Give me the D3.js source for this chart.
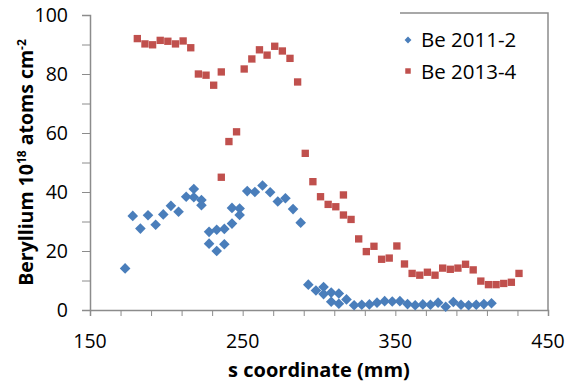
<!DOCTYPE html>
<html>
<head>
<meta charset="utf-8">
<script src="https://cdn.jsdelivr.net/npm/d3@7"></script>
<style>
    body { margin: 0; background: #fff; }
    svg { display: block; font-family: "Open Sans", sans-serif; }
</style>
</head>
<body>
<div id="chart"></div>
<script>
// s coordinate (mm) / beryllium 10^18 atoms cm^-2
const SERIES_NAMES = ['Be 2011-2', 'Be 2013-4'];

const s2011 = [173, 178, 183, 188, 193, 198, 203, 208, 213, 218, 218, 223, 223, 228, 228, 233, 233, 238, 238,
    243, 243, 248, 248, 253, 258, 263, 268, 273, 278, 283, 288, 293, 298, 303, 303, 308, 308, 313, 313, 318,
    323, 328, 333, 338, 343, 348, 353, 358, 363, 368, 373, 378, 383, 388, 393, 398, 403, 408, 413];
const be2011 = [14.1, 31.9, 27.6, 32.1, 28.9, 32.4, 35.3, 33.3, 38.4, 41.0, 38.2, 37.3, 35.5, 26.5, 22.5, 27.2, 20.0, 27.5, 22.3,
    34.6, 29.3, 34.4, 32.2, 40.3, 40.0, 42.2, 39.9, 36.8, 37.9, 34.2, 29.6, 8.6, 6.6, 7.8, 5.4, 5.9, 2.8, 5.6, 2.1, 3.6,
    1.6, 1.8, 1.9, 2.5, 3.0, 2.9, 3.0, 2.0, 1.6, 1.9, 1.8, 2.5, 1.1, 2.7, 1.8, 1.6, 1.8, 2.0, 2.3];

const s2013 = [181, 186, 191, 196, 201, 206, 211, 216, 221, 226, 231, 236, 236, 241, 246, 251, 256, 261, 266, 271,
    276, 281, 286, 291, 296, 301, 306, 311, 316, 316, 321, 326, 331, 336, 341, 346, 351, 356, 361, 366,
    371, 376, 381, 386, 391, 396, 401, 406, 411, 416, 421, 426, 431];
const be2013 = [92.0, 90.2, 89.9, 91.4, 91.1, 90.2, 91.2, 88.9, 80.0, 79.6, 76.2, 80.7, 45.0, 57.1, 60.4, 81.7, 85.1, 88.2, 86.4, 89.4,
    87.8, 85.3, 77.3, 53.1, 43.5, 38.4, 35.8, 35.0, 39.0, 32.2, 30.7, 24.1, 19.8, 21.6, 17.2, 17.6, 21.7, 15.6, 12.4, 11.8,
    12.8, 11.8, 14.2, 13.8, 14.2, 15.5, 13.6, 9.8, 8.6, 8.6, 9.0, 9.4, 12.4];

const X_TICKS = [150, 250, 350, 450];
const Y_TICKS = [0, 20, 40, 60, 80, 100];

window.addEventListener('load', function() {
    const width = 578, height = 385;
    const margin = { top: 15, right: 30, bottom: 75, left: 90 };
    const axisColor = '#8c8c8c';

    const svg = d3.select('#chart')
        .append('svg')
        .attr('width', width)
        .attr('height', height);

    const x = d3.scaleLinear().domain([150, 450]).range([margin.left, width - margin.right]);
    const y = d3.scaleLinear().domain([0, 100]).range([height - margin.bottom, margin.top]);

    // x axis: minor ticks every 20 mm, labels every 100
    const xAxis = svg.append('g')
        .attr('transform', 'translate(0,' + y(0) + ')')
        .call(d3.axisBottom(x).tickValues(d3.range(150, 451, 20)).tickSize(6).tickFormat(''));
    xAxis.select('.domain').attr('stroke', axisColor).attr('stroke-width', 1.5);
    xAxis.selectAll('.tick line').attr('stroke', axisColor);

    svg.selectAll('.xlabel')
        .data(X_TICKS)
        .enter()
        .append('text')
        .attr('x', d => x(d))
        .attr('y', 348)
        .attr('text-anchor', 'middle')
        .attr('font-size', 19.5)
        .attr('fill', '#000')
        .text(d => d);

    // y axis: ticks every 10, labels every 20
    const yAxis = svg.append('g')
        .attr('transform', 'translate(' + x(150) + ',0)')
        .call(d3.axisLeft(y).tickValues(d3.range(0, 101, 10)).tickSize(8).tickFormat(''));
    yAxis.select('.domain').attr('stroke', axisColor).attr('stroke-width', 1.5);
    yAxis.selectAll('.tick line').attr('stroke', axisColor);

    svg.selectAll('.ylabel')
        .data(Y_TICKS)
        .enter()
        .append('text')
        .attr('x', 68)
        .attr('y', d => y(d) + 7)
        .attr('text-anchor', 'end')
        .attr('font-size', 19.5)
        .attr('fill', '#000')
        .text(d => d);

    // frame on the right + top of legend box
    svg.append('path')
        .attr('d', 'M400,13H' + x(450) + 'V' + y(0))
        .attr('fill', 'none')
        .attr('stroke', axisColor)
        .attr('stroke-width', 1.5);

    // axis titles
    svg.append('text')
        .attr('x', (x(150) + x(450)) / 2)
        .attr('y', 377)
        .attr('text-anchor', 'middle')
        .attr('font-size', 20)
        .attr('font-weight', 'bold')
        .attr('fill', '#000')
        .text('s coordinate (mm)');

    const yTitle = svg.append('text')
        .attr('transform', 'translate(33,' + (y(0) + y(100)) / 2 + ') rotate(-90)')
        .attr('text-anchor', 'middle')
        .attr('font-size', 19.5)
        .attr('font-weight', 'bold')
        .attr('fill', '#000');
    yTitle.append('tspan').text('Beryllium 10');
    yTitle.append('tspan').attr('dy', -7).attr('font-size', 12).text('18');
    yTitle.append('tspan').attr('dy', 7).text(' atoms cm');
    yTitle.append('tspan').attr('dy', -7).attr('font-size', 12).text('-2');

    const diamond = d3.symbol().type(d3.symbolDiamond2).size(72);
    const square = d3.symbol().type(d3.symbolSquare).size(54);

    // 2013-4 squares
    svg.selectAll('.sq')
        .data(d3.zip(s2013, be2013))
        .enter()
        .append('path')
        .attr('d', square)
        .attr('transform', d => 'translate(' + x(d[0]) + ',' + y(d[1]) + ')')
        .attr('fill', '#c0504d');

    // 2011-2 diamonds
    svg.selectAll('.dia')
        .data(d3.zip(s2011, be2011))
        .enter()
        .append('path')
        .attr('d', diamond)
        .attr('transform', d => 'translate(' + x(d[0]) + ',' + y(d[1]) + ')')
        .attr('fill', '#4a7ebb');

    // legend
    const legend = svg.append('g');
    legend.append('path')
        .attr('d', d3.symbol().type(d3.symbolDiamond2).size(30))
        .attr('transform', 'translate(408,40)')
        .attr('fill', '#4a7ebb');
    legend.append('path')
        .attr('d', d3.symbol().type(d3.symbolSquare).size(30))
        .attr('transform', 'translate(408,71)')
        .attr('fill', '#c0504d');
    legend.selectAll('text')
        .data(SERIES_NAMES)
        .enter()
        .append('text')
        .attr('x', 421)
        .attr('y', (d, i) => 47 + i * 31.5)
        .attr('font-size', 20.5)
        .attr('fill', '#000')
        .text(d => d);
});
</script>
</body>
</html>
